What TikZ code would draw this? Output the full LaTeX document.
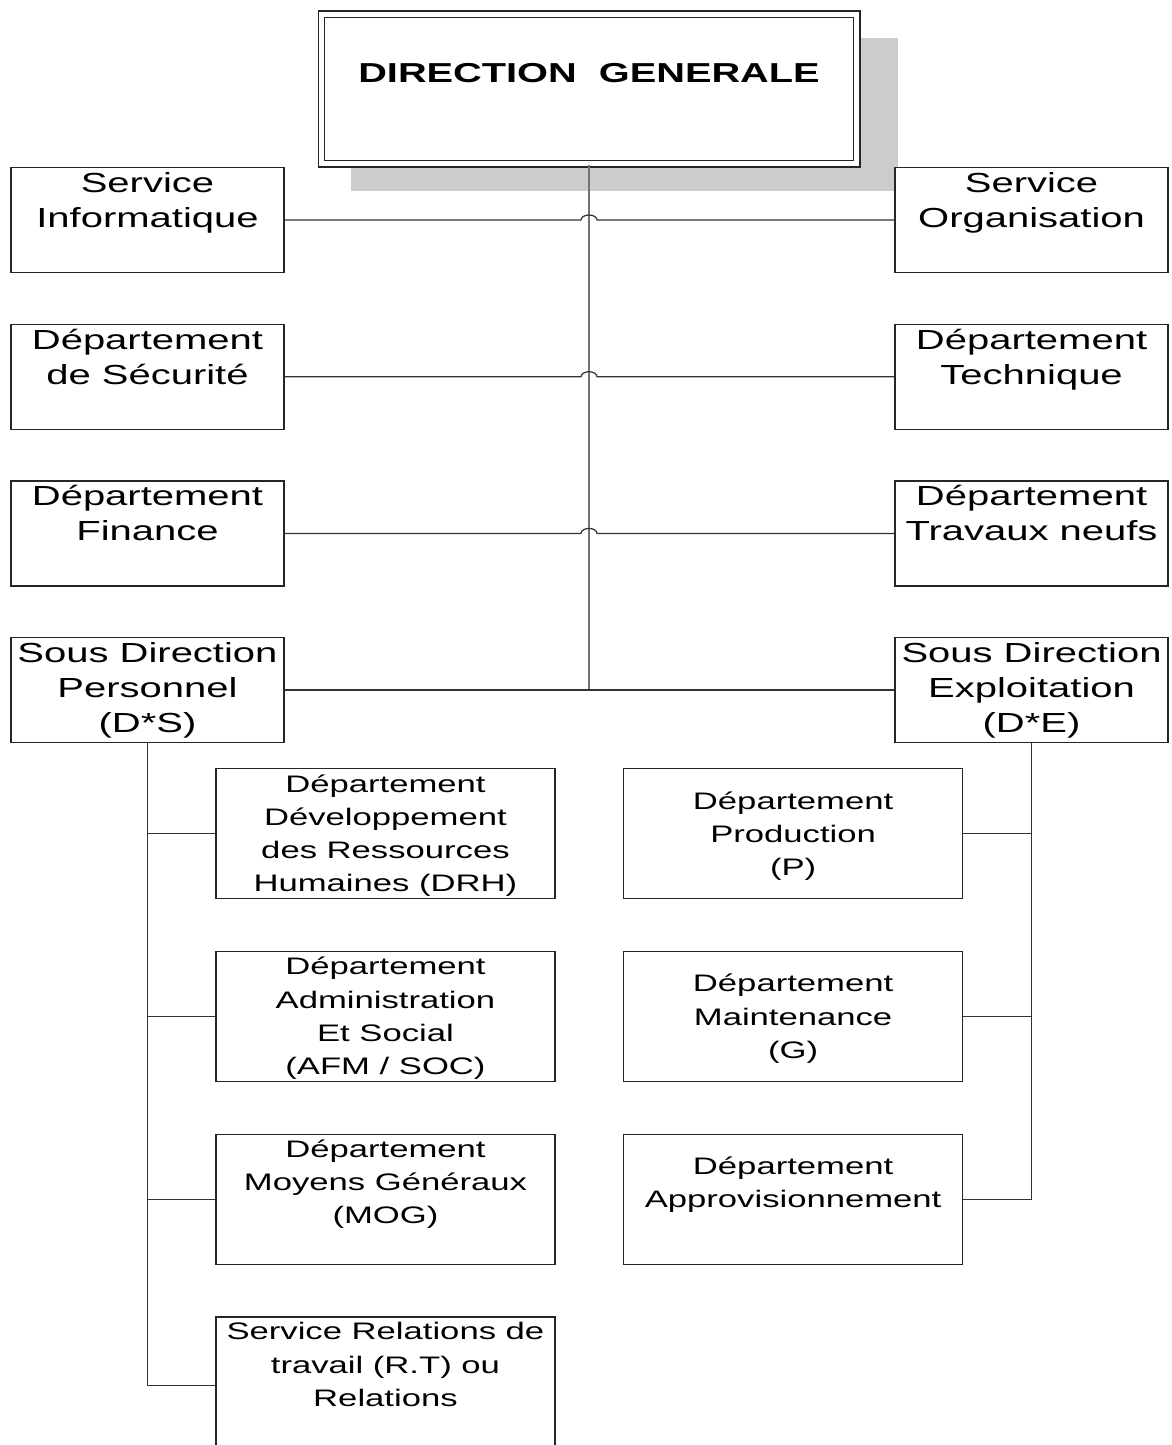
\documentclass[tikz,border=0pt]{standalone}
\usepackage{fontspec}
\setmainfont[FakeStretch=1.45]{Liberation Sans}
\usetikzlibrary{positioning,shadows}
\tikzset{
 headbox/.style={
 rectangle,
 draw=black!85,
 line width=0.6pt,
 double=white,
 double distance=0.1cm,
 fill=white,
 minimum width=10.72cm,
 minimum height=3.0cm,
 inner sep=0pt,
 drop shadow={shadow xshift=0.7cm, shadow yshift=-0.5cm, shadow scale=1.02, fill=black!20, opacity=1}
 },
 unitbox/.style={
 rectangle,
 draw=black!85,
 line width=0.7pt,
 fill=white,
 minimum width=5.46cm,
 minimum height=2.1cm,
 inner sep=0pt
 },
 subbox/.style={
 rectangle,
 draw=black!85,
 line width=0.7pt,
 fill=white,
 minimum width=6.78cm,
 minimum height=2.6cm,
 inner sep=0pt
 },
 titletext/.style={anchor=base, inner sep=0pt, font=\fontsize{15.6}{18}\selectfont\bfseries},
 uptext/.style={align=center, anchor=north, inner sep=0pt, font=\fontsize{15.7}{19.9}\selectfont},
 lowtext/.style={align=center, anchor=north, inner sep=0pt, font=\fontsize{13.6}{18.9}\selectfont},
 link/.style={draw=black!80, line width=0.7pt},
 trunk/.style={draw=black!55, line width=1.1pt}
}
\begin{document}
\begin{tikzpicture}[x=0.02cm, y=-0.02cm, node distance=1.01cm and 12.2cm]
	\useasboundingbox (0,0) rectangle (1171,1445);
	\clip (0,0) rectangle (1171,1445);

	% top
	\node[headbox] (dg) at (589,89) {};
	\node[titletext] (dg-t) at ([yshift=-1.38cm]dg.north) {DIRECTION\ \ GENERALE};

	% staff boxes, two columns
	\node[unitbox] (info) at (147.5,220) {};
	\node[unitbox, right=of info] (orga) {};
	\node[unitbox, below=of info] (secu) {};
	\node[unitbox, right=of secu] (tech) {};
	\node[unitbox, below=of secu] (fin) {};
	\node[unitbox, right=of fin] (neuf) {};
	\node[unitbox, below=of fin] (sdp) {};
	\node[unitbox, right=of sdp] (sde) {};

	\node[uptext] (info-t) at ([yshift=-0.1cm]info.north) {Service\\Informatique};
	\node[uptext] (orga-t) at ([yshift=-0.1cm]orga.north) {Service\\Organisation};
	\node[uptext] (secu-t) at ([yshift=-0.1cm]secu.north) {Département\\de Sécurité};
	\node[uptext] (tech-t) at ([yshift=-0.1cm]tech.north) {Département\\Technique};
	\node[uptext] (fin-t) at ([yshift=-0.1cm]fin.north) {Département\\Finance};
	\node[uptext] (neuf-t) at ([yshift=-0.1cm]neuf.north) {Département\\Travaux neufs};
	\node[uptext] (sdp-t) at ([yshift=-0.1cm]sdp.north) {Sous Direction\\Personnel\\(D*S)};
	\node[uptext] (sde-t) at ([yshift=-0.1cm]sde.north) {Sous Direction\\Exploitation\\(D*E)};

	% departments under D*S
	\node[subbox, below=0.5cm of sdp, xshift=4.76cm] (drh) {};
	\node[subbox, below=1.03cm of drh] (adm) {};
	\node[subbox, below=1.03cm of adm] (mog) {};
	\node[subbox, below=1.03cm of mog, minimum height=2.75cm] (rt) {};

	\node[lowtext] (drh-t) at ([yshift=-0.12cm]drh.north) {Département\\Développement\\des Ressources\\Humaines (DRH)};
	\node[lowtext] (adm-t) at ([yshift=-0.12cm]adm.north) {Département\\Administration\\Et Social\\(AFM / SOC)};
	\node[lowtext] (mog-t) at ([yshift=-0.12cm]mog.north) {Département\\Moyens Généraux\\(MOG)};
	\node[lowtext] (rt-t) at ([yshift=-0.12cm]rt.north) {Service Relations de\\travail (R.T) ou\\Relations};

	% departments under D*E
	\node[subbox, below=0.5cm of sde, xshift=-4.77cm] (prod) {};
	\node[subbox, below=1.03cm of prod] (maint) {};
	\node[subbox, below=1.03cm of maint] (appro) {};

	\node[lowtext] (prod-t) at ([yshift=-0.46cm]prod.north) {Département\\Production\\(P)};
	\node[lowtext] (maint-t) at ([yshift=-0.46cm]maint.north) {Département\\Maintenance\\(G)};
	\node[lowtext] (appro-t) at ([yshift=-0.46cm]appro.north) {Département\\Approvisionnement};

	% connectors
	\coordinate (junc) at (dg.south |- sdp.east);
	\coordinate (hop1) at ([xshift=-0.16cm]dg.south |- info.east);
	\coordinate (hop2) at ([xshift=-0.16cm]dg.south |- secu.east);
	\coordinate (hop3) at ([xshift=-0.16cm]dg.south |- fin.east);

	\draw[trunk] (dg.south) -- (junc);
	\draw[link] (info.east) -- (hop1) arc[start angle=180, end angle=0, x radius=0.16cm, y radius=0.1cm] -- (orga.west);
	\draw[link] (secu.east) -- (hop2) arc[start angle=180, end angle=0, x radius=0.16cm, y radius=0.1cm] -- (tech.west);
	\draw[link] (fin.east) -- (hop3) arc[start angle=180, end angle=0, x radius=0.16cm, y radius=0.1cm] -- (neuf.west);
	\draw[link] (sdp.east) -- (sde.west);

	\draw[link] (sdp.south) |- (rt.west);
	\draw[link] (drh.west) -- (drh.west -| sdp.south);
	\draw[link] (adm.west) -- (adm.west -| sdp.south);
	\draw[link] (mog.west) -- (mog.west -| sdp.south);

	\draw[link] (sde.south) |- (appro.east);
	\draw[link] (prod.east) -- (prod.east -| sde.south);
	\draw[link] (maint.east) -- (maint.east -| sde.south);
\end{tikzpicture}
\end{document}
